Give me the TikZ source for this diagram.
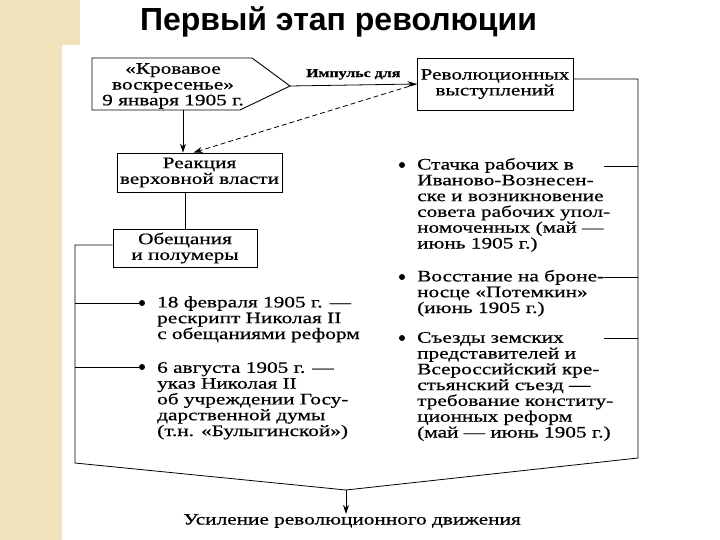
\documentclass[tikz,border=0pt]{standalone}
\usepackage{fontspec}
\setmainfont{Liberation Serif}[FakeStretch=1.33,FakeBold=0.6]
\newfontfamily\titlefont{Liberation Sans}
\usetikzlibrary{arrows.meta,calc}
\definecolor{beige}{RGB}{240,227,188}
\newcommand{\bodyf}{\fontsize{16}{15.8}\selectfont}
\begin{document}
\begin{tikzpicture}[x=1pt,y=-1pt,
  box/.style={draw, line width=0.9pt, align=center, inner sep=0pt, font=\bodyf},
  txt/.style={align=left, anchor=base west, inner sep=0pt, font=\bodyf},
  dot/.style={circle, fill, inner sep=0pt, minimum size=6pt},
  conn/.style={line width=0.8pt},
  arr/.style={conn, -{Stealth[length=9pt,width=6pt]}}
]
\useasboundingbox (0,0) rectangle (720,540);
\fill[white] (0,0) rectangle (720,540);
\fill[beige] (0,0) rectangle (80,45);
\fill[beige] (0,45) rectangle (62,540);

\node[font=\titlefont\bfseries\fontsize{32}{36}\selectfont] (title) at (338.5,22) {Первый этап революции};

% pentagon
\coordinate (p1) at (92,58);
\coordinate (p2) at (252,58);
\coordinate (tip) at (290,86);
\coordinate (p4) at (240,110);
\coordinate (p5) at (92,110);
\coordinate (bl) at (183,110);
\draw[line width=0.9pt] (p1) -- (p2) -- (tip) -- (p4) -- (p5) -- cycle;
\node[align=center, inner sep=0pt, font=\bodyf] (blood) at (173,86) {«Кровавое\\воскресенье»\\9 января 1905 г.};

\node[box, minimum width=156, minimum height=52] (rev) at (495,84) {Революционных\\выступлений};
\node[box, minimum width=165, minimum height=39] (react) at (199.5,172.5) {Реакция\\верховной власти};
\node[box, minimum width=144, minimum height=38] (prom) at (185,248) {Обещания\\и полумеры};

\draw[arr] (tip) -- (rev.west) node[midway, above=5pt, inner sep=0pt, font=\bfseries\fontsize{12}{14}\selectfont] (imp) {Импульс для};
\draw[arr] (bl) -- (bl |- react.north);
\draw[arr, dash pattern=on 5pt off 3pt] (rev.west) -- ([xshift=-6pt]react.north);
\draw[conn] (prom.north) -- (prom.north |- react.south);

\coordinate (lc) at (75,463);
\coordinate (vb) at (346,490);
\coordinate (rc) at (638,458);
\draw[conn] ([yshift=3pt]prom.west) -| (lc) -- (vb) -- (rc) |- ([yshift=5pt]rev.east);

% left bullets
\node[dot] (lb1) at (142,303) {};
\node[dot] (lb2) at (142,367) {};
\draw[conn] (lb1.west -| lc) -- (lb1.west);
\draw[conn] (lb2.west -| lc) -- (lb2.west);
\node[txt] (lt1) at (157,339) {18 февраля 1905 г. —\\рескрипт Николая II\\с обещаниями реформ};
\node[txt] (lt2) at (157,436) {6 августа 1905 г. —\\указ Николая II\\об учреждении Госу-\\дарственной думы\\(т.н. «Булыгинской»)};

% right bullets
\node[dot] (rb1) at (402,165) {};
\node[dot] (rb2) at (402,277) {};
\node[dot] (rb3) at (402,338) {};
\node[txt] (rt1) at (417,248.5) {Стачка рабочих в\\Иваново-Вознесен-\\ске и возникновение\\совета рабочих упол-\\номоченных (май —\\июнь 1905 г.)};
\node[txt] (rt2) at (417,313) {Восстание на броне-\\носце «Потемкин»\\(июнь 1905 г.)};
\node[txt] (rt3) at (417,437.5) {Съезды земских\\представителей и\\Всероссийский кре-\\стьянский съезд —\\требование конститу-\\ционных реформ\\(май — июнь 1905 г.)};
\coordinate (rs1) at (604,166);
\coordinate (rs2) at (604,277);
\coordinate (rs3) at (604,338);
\draw[conn] (rs1) -- (rs1 -| rc);
\draw[conn] (rs2) -- (rs2 -| rc);
\draw[conn] (rs3) -- (rs3 -| rc);

\node[inner sep=0pt, font=\bodyf] (res) at (352,521) {Усиление революционного движения};
\draw[arr] (vb) -- (vb |- res.north);
\end{tikzpicture}
\end{document}
